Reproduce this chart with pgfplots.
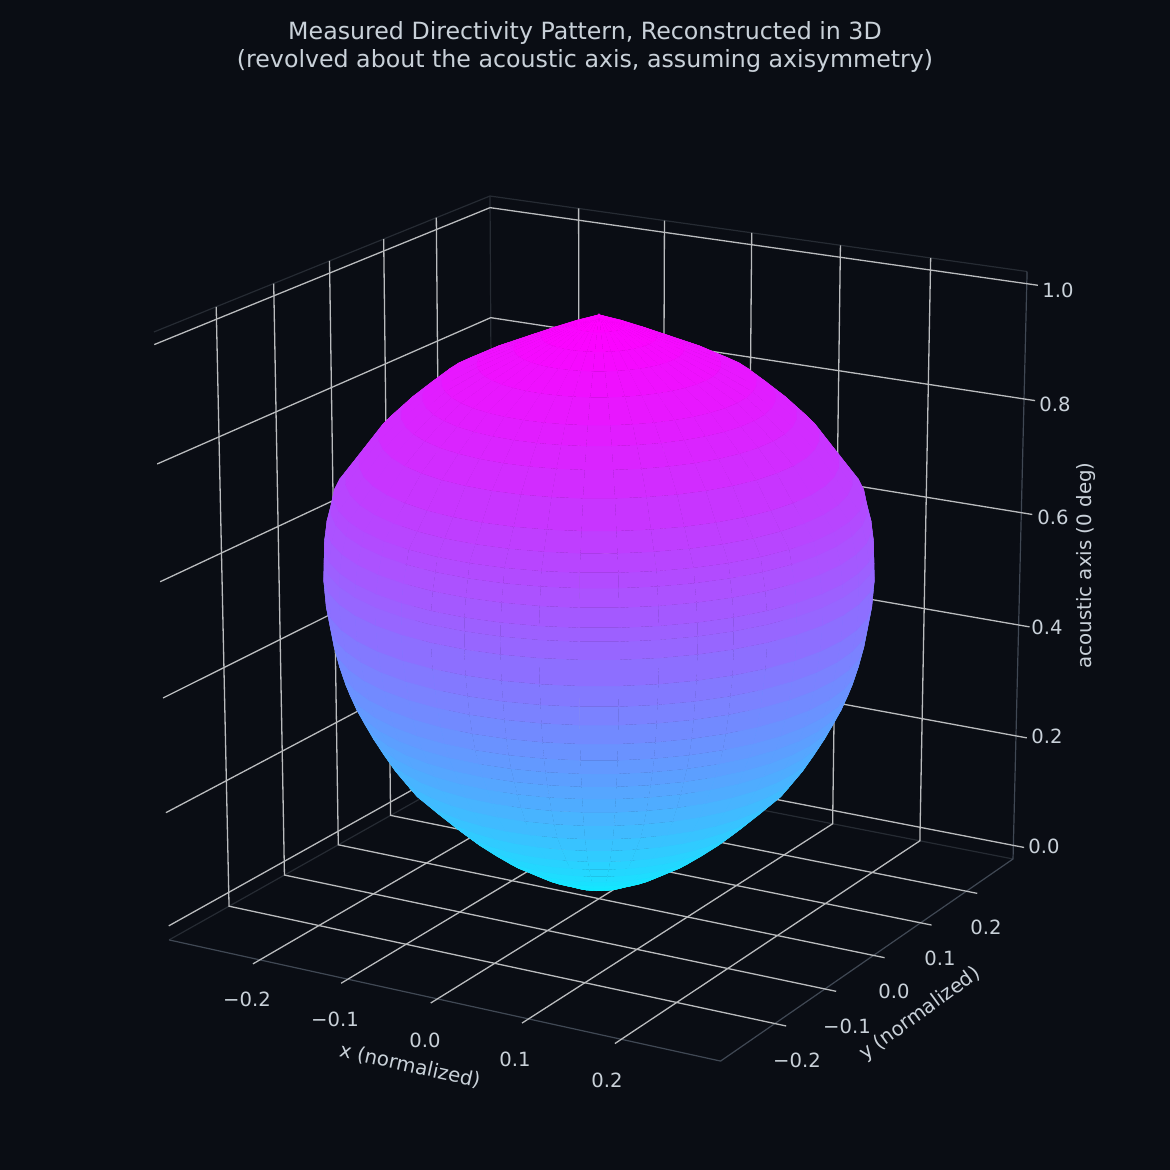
\documentclass[border=0pt]{standalone}
\usepackage{pgfplots}
\pgfplotsset{compat=1.18}
\usepackage{fontspec}
\setmainfont{DejaVu Sans}
\definecolor{bg}{RGB}{10,13,20}
\definecolor{txt}{RGB}{201,209,217}
\definecolor{gridc}{RGB}{186,188,190}
\definecolor{edgeA}{RGB}{64,72,84}
\definecolor{edgeB}{RGB}{38,43,51}
\pgfplotsset{colormap={mcool}{rgb255(0cm)=(10,240,255); rgb255(1cm)=(255,0,255)}}
\pgfplotsset{/pgfplots/table/proj/.style={
  x expr={sx(wx(\thisrow{X}),wx(\thisrow{Y}),wz(\thisrow{Z}))},
  y expr={sy(wx(\thisrow{X}),wx(\thisrow{Y}),wz(\thisrow{Z}))},
  row sep=\\}}
\newcommand\xgrid[1]{\addplot[gridc,line width=1.3pt] table[proj]{X Y Z\\ #1 -0.317 -0.025\\ #1 0.305 -0.025\\ #1 0.305 1.021\\};}
\newcommand\ygrid[1]{\addplot[gridc,line width=1.3pt] table[proj]{X Y Z\\ 0.317 #1 -0.025\\ -0.305 #1 -0.025\\ -0.305 #1 1.021\\};}
\newcommand\zgrid[1]{\addplot[gridc,line width=1.3pt] table[proj]{X Y Z\\ -0.305 -0.305 #1\\ -0.305 0.305 #1\\ 0.317 0.305 #1\\};}
% surface of revolution: one ring per line of the measured profile (z, radius)
\newtoks\T
\T={phi z r\\}
\newcommand\ring[2]{\T\expandafter{\the\T
 -192 #1 #2\\ -184 #1 #2\\ -176 #1 #2\\ -168 #1 #2\\ -160 #1 #2\\ -152 #1 #2\\ -144 #1 #2\\ -136 #1 #2\\ -128 #1 #2\\ -120 #1 #2\\ -112 #1 #2\\ -104 #1 #2\\ -96 #1 #2\\ -88 #1 #2\\ -80 #1 #2\\ -72 #1 #2\\ -64 #1 #2\\ -56 #1 #2\\ -48 #1 #2\\ -40 #1 #2\\ -32 #1 #2\\ -24 #1 #2\\ -16 #1 #2\\ -8 #1 #2\\ 0 #1 #2\\ 8 #1 #2\\ 16 #1 #2\\ 24 #1 #2\\ 32 #1 #2\\ 40 #1 #2\\ 48 #1 #2\\ 56 #1 #2\\ 64 #1 #2\\ 72 #1 #2\\}}
\ring{0.000}{0.000}
\ring{0.004}{0.018}
\ring{0.012}{0.035}
\ring{0.024}{0.050}
\ring{0.036}{0.066}
\ring{0.050}{0.080}
\ring{0.070}{0.100}
\ring{0.090}{0.116}
\ring{0.114}{0.134}
\ring{0.138}{0.150}
\ring{0.170}{0.170}
\ring{0.203}{0.190}
\ring{0.235}{0.204}
\ring{0.265}{0.215}
\ring{0.294}{0.225}
\ring{0.320}{0.233}
\ring{0.347}{0.241}
\ring{0.374}{0.2475}
\ring{0.405}{0.253}
\ring{0.440}{0.258}
\ring{0.473}{0.2613}
\ring{0.510}{0.265}
\ring{0.555}{0.267}
\ring{0.585}{0.2665}
\ring{0.608}{0.266}
\ring{0.640}{0.2635}
\ring{0.670}{0.259}
\ring{0.694}{0.256}
\ring{0.720}{0.2445}
\ring{0.750}{0.2313}
\ring{0.794}{0.212}
\ring{0.830}{0.190}
\ring{0.8593}{0.1695}
\ring{0.8847}{0.151}
\ring{0.9145}{0.117}
\ring{0.941}{0.0817}
\ring{0.961}{0.055}
\ring{0.981}{0.027}
\ring{0.998}{0.000}
\newcommand\plotsurf[1]{\addplot[surf,shader=flat mean,line width=0.3pt,colormap name=mcool,mesh/cols=34,mesh/ordering=x varies,point meta=\thisrow{z},point meta min=0,point meta max=1]
  table[row sep=\\,
   x expr={sx(wx(\thisrow{r}*cos(\thisrow{phi})),wx(\thisrow{r}*sin(\thisrow{phi})),wz(\thisrow{z}))},
   y expr={sy(wx(\thisrow{r}*cos(\thisrow{phi})),wx(\thisrow{r}*sin(\thisrow{phi})),wz(\thisrow{z}))}]{#1};}
\newcommand\lab[3]{\node[text=txt,font=\fontsize{19.6}{22}\selectfont,anchor=center] at (axis cs:#1,{1170-#2}) {#3};}
\begin{document}
\begin{tikzpicture}[x=1pt,y=1pt]
\fill[bg] (0,0) rectangle (1170,1170);
\useasboundingbox (0,0) rectangle (1170,1170);
\begin{axis}[at={(0,0)},anchor=south west,width=1170pt,height=1170pt,scale only axis,hide axis,
  xmin=0,xmax=1170,ymin=0,ymax=1170,clip=false,
  declare function={
    pX(\a,\b)=0.866025*\a+0.5*\b;
    pY(\a,\b,\c)=-0.154508*\a+0.267617*\b+0.951057*\c;
    pD(\a,\b,\c)=0.47553*\a-0.82364*\b+0.30902*\c;
    sx(\a,\b,\c)=599+5710*pX(\a,\b)/(10-pD(\a,\b,\c));
    sy(\a,\b,\c)=565+5710*pY(\a,\b,\c)/(10-pD(\a,\b,\c));
    wx(\a)=\a*1.1/0.61;
    wz(\a)=(\a-0.498)*1.1/1.046;
  }]
% pane edges
\addplot[edgeB,line width=1.2pt] table[proj]{X Y Z\\ -0.305 -0.305 1.021\\ -0.305 0.305 1.021\\ 0.305 0.305 1.021\\};
\addplot[edgeB,line width=1.2pt] table[proj]{X Y Z\\ -0.305 0.305 -0.025\\ -0.305 0.305 1.021\\};
\addplot[edgeB,line width=1.2pt] table[proj]{X Y Z\\ -0.305 -0.305 -0.025\\ -0.305 0.305 -0.025\\ 0.305 0.305 -0.025\\};
\addplot[edgeA,line width=1.2pt] table[proj]{X Y Z\\ -0.305 -0.305 -0.025\\ 0.305 -0.305 -0.025\\ 0.305 0.305 -0.025\\ 0.305 0.305 1.021\\};
% grid
\xgrid{-0.2}\xgrid{-0.1}\xgrid{0.0}\xgrid{0.1}\xgrid{0.2}
\ygrid{-0.2}\ygrid{-0.1}\ygrid{0.0}\ygrid{0.1}\ygrid{0.2}
\zgrid{0.0}\zgrid{0.2}\zgrid{0.4}\zgrid{0.6}\zgrid{0.8}\zgrid{1.0}
% surface
\expandafter\plotsurf\expandafter{\the\T}
% tick labels
\lab{247}{999}{−0.2}\lab{335}{1019}{−0.1}\lab{425}{1040}{0.0}\lab{515}{1059}{0.1}\lab{607}{1080}{0.2}
\lab{797}{1060}{−0.2}\lab{847}{1026}{−0.1}\lab{894}{991}{0.0}\lab{940}{958}{0.1}\lab{986}{927}{0.2}
\lab{1044}{846}{0.0}\lab{1047}{736}{0.2}\lab{1047}{627}{0.4}\lab{1053}{517}{0.6}\lab{1055}{404}{0.8}\lab{1058}{290}{1.0}
% axis labels
\node[text=txt,font=\fontsize{19.8}{22}\selectfont,rotate=-12.5] at (axis cs:410,104) {x (normalized)};
\node[text=txt,font=\fontsize{19.8}{22}\selectfont,rotate=36] at (axis cs:920,156) {y (normalized)};
\node[text=txt,font=\fontsize{19.8}{22}\selectfont,rotate=90] at (axis cs:1086,604.5) {acoustic axis (0 deg)};
% title
\node[text=txt,font=\fontsize{23.7}{28}\selectfont,align=center] at (axis cs:585,1123) {Measured Directivity Pattern, Reconstructed in 3D\\(revolved about the acoustic axis, assuming axisymmetry)};
\end{axis}
\end{tikzpicture}
\end{document}
